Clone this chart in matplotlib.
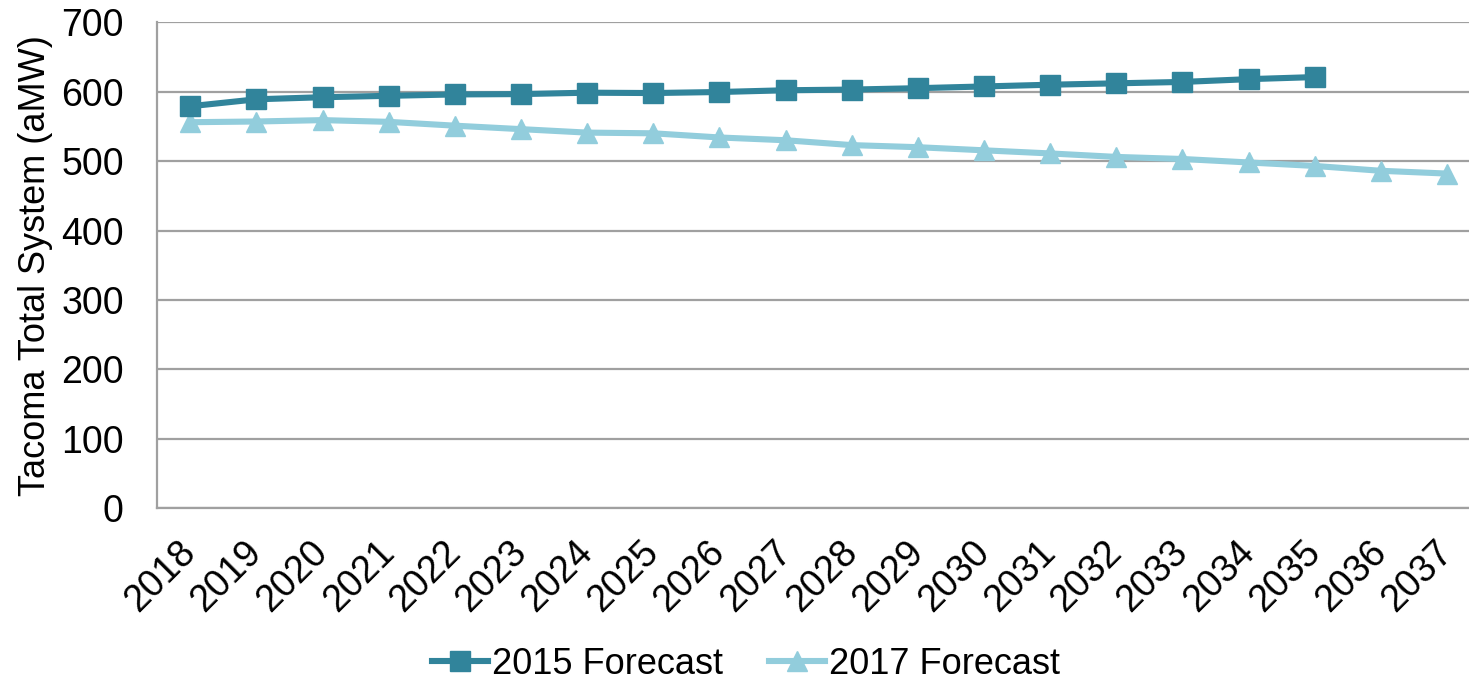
import matplotlib.pyplot as plt

years = [str(y) for y in range(2018, 2038)]

# 2015 forecast runs through 2035 only
forecast_2015 = [579, 589, 592, 594, 596, 596.5, 598.5, 598, 599.5, 602, 603, 605,
                 607.5, 610, 612, 614, 618, 621]
forecast_2017 = [556, 557, 559, 556.5, 551, 546, 541, 540, 534, 530, 523, 520,
                 515.5, 511, 506, 503, 498, 493, 486, 482]

plt.rcParams['font.family'] = ['Liberation Sans', 'DejaVu Sans']

fig = plt.figure(figsize=(14.69, 6.84), dpi=100)
ax = fig.add_axes([0.107, 0.257, 0.9006, 0.7105])

x15 = list(range(len(forecast_2015)))
x17 = list(range(len(forecast_2017)))
ax.plot(x15, forecast_2015, color='#31849B', linewidth=4.4, marker='s',
        markersize=14.5, label='2015 Forecast', zorder=4)
ax.plot(x17, forecast_2017, color='#92CDDC', linewidth=4.4, marker='^',
        markersize=15, label='2017 Forecast', zorder=3)

ax.set_xlim(-0.5, len(years) - 0.5)
ax.set_ylim(0, 700)
ax.set_yticks(range(0, 701, 100))
ax.set_xticks(range(len(years)))
ax.set_xticklabels(years, rotation=45, ha='right', va='center',
                   rotation_mode='anchor')
ax.tick_params(axis='both', length=0, labelsize=27)
ax.tick_params(axis='y', pad=24)
ax.tick_params(axis='x', pad=28)

ax.grid(axis='y', color='#a0a0a0', linewidth=1.6)
ax.set_axisbelow(True)
for side in ['top', 'right']:
    ax.spines[side].set_visible(False)
ax.spines['left'].set_color('#a0a0a0')
ax.spines['left'].set_linewidth(1.6)
ax.spines['bottom'].set_color('#a0a0a0')
ax.spines['bottom'].set_linewidth(1.6)

ax.set_ylabel('Tacoma Total System (aMW)', fontsize=26, labelpad=6)

fig.legend(loc='lower center', bbox_to_anchor=(0.508, -0.044), ncol=2,
           frameon=False, fontsize=26, handlelength=1.55, handletextpad=0.12,
           columnspacing=1.27)

fig.savefig('out.png', dpi=100)
